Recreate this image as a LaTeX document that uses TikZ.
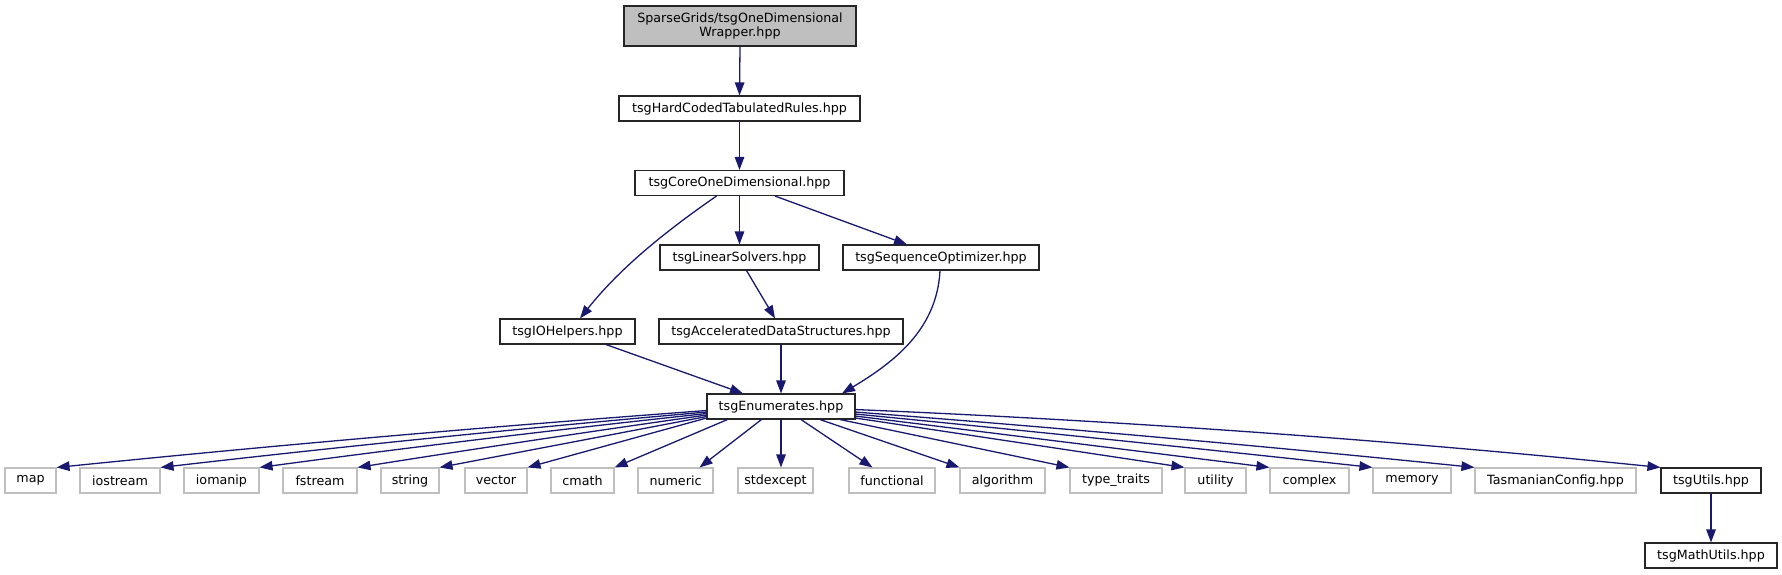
\documentclass[tikz,border=0pt]{standalone}
\usepackage{fontspec}
\setmainfont{DejaVu Sans}
\usetikzlibrary{arrows.meta,calc}
\definecolor{edgeblue}{HTML}{191970}
\definecolor{greyline}{HTML}{BFBFBF}
\newcommand\curvconn[3]{\draw[conn] (#1) .. controls ($(#1)!0.33!(#2)+(0,-#3)$) and ($(#1)!0.67!(#2)+(0,-#3)$) .. (#2);}
\begin{document}
\begin{tikzpicture}[x=1pt,y=-1pt,
  box/.style={draw=black!85, line width=1.1pt, inner sep=0pt, minimum height=25pt,
    font=\fontsize{12.7}{14.5}\selectfont, align=center, fill=white, text=black},
  ext/.style={box, draw=greyline},
  topbox/.style={box, fill=greyline, minimum height=40pt},
  conn/.style={draw=edgeblue, line width=1.3pt, -{Triangle[length=13pt,width=9.5pt]}}]
\useasboundingbox (0,0) rectangle (1782,575);
\fill[white] (0,0) rectangle (1782,575);

% nodes
\node[topbox, minimum width=232pt] (top) at (740,26) {SparseGrids/tsgOneDimensional\\Wrapper.hpp};
\node[box, minimum width=241pt] (hard) at (739.5,108.5) {tsgHardCodedTabulatedRules.hpp};
\node[box, minimum width=209pt] (core) at (739.5,183) {tsgCoreOneDimensional.hpp};
\node[box, minimum width=159pt] (linear) at (739.5,257.5) {tsgLinearSolvers.hpp};
\node[box, minimum width=196pt] (seq) at (941,257.5) {tsgSequenceOptimizer.hpp};
\node[box, minimum width=135pt] (io) at (567.5,331.5) {tsgIOHelpers.hpp};
\node[box, minimum width=244pt] (accel) at (781,331.5) {tsgAcceleratedDataStructures.hpp};
\node[box, minimum width=148pt] (enum) at (781,406.5) {tsgEnumerates.hpp};

\node[ext, minimum width=51pt] (map) at (30.5,480.5) {map};
\node[ext, minimum width=80pt] (iostream) at (120,480.5) {iostream};
\node[ext, minimum width=75pt] (iomanip) at (221.5,480.5) {iomanip};
\node[ext, minimum width=74pt] (fstream) at (320,480.5) {fstream};
\node[ext, minimum width=58pt] (string) at (410,480.5) {string};
\node[ext, minimum width=62pt] (vector) at (496,480.5) {vector};
\node[ext, minimum width=63pt] (cmath) at (582.5,480.5) {cmath};
\node[ext, minimum width=75pt] (numeric) at (675.5,480.5) {numeric};
\node[ext, minimum width=75pt] (stdexcept) at (775.5,480.5) {stdexcept};
\node[ext, minimum width=86pt] (functional) at (892,480.5) {functional};
\node[ext, minimum width=85pt] (algorithm) at (1002.5,480.5) {algorithm};
\node[ext, minimum width=92pt] (ttraits) at (1116,480.5) {type\_traits};
\node[ext, minimum width=61pt] (utility) at (1215.5,480.5) {utility};
\node[ext, minimum width=79pt] (complex) at (1309.5,480.5) {complex};
\node[ext, minimum width=78pt] (memory) at (1412,480.5) {memory};
\node[ext, minimum width=161pt] (tconfig) at (1555.5,480.5) {TasmanianConfig.hpp};
\node[box, minimum width=100pt] (utils) at (1711,480.5) {tsgUtils.hpp};
\node[box, minimum width=132pt] (mathutils) at (1711,555.5) {tsgMathUtils.hpp};

% upper connectors
\draw[conn] (top.south) -- (hard.north);
\draw[conn] (hard.south) -- (core.north);
\draw[conn] (core.south) -- (linear.north);
\draw[conn] ($(core.south)+(-23,0)$) .. controls +(-55,38) and +(38,-48) .. ($(io.north)+(12.5,0)$);
\draw[conn] ($(core.south)+(35.5,0)$) -- ($(seq.north)+(-34,0)$);
\draw[conn] ($(linear.south)+(7,0)$) -- ($(accel.north)+(-6,0)$);
\draw[conn] ($(io.south)+(38.5,0)$) -- ($(enum.north)+(-38,0)$);
\draw[conn] (accel.south) -- (enum.north);
\draw[conn] ($(seq.south)+(-1,0)$) .. controls +(-3,60) and +(50,-30) .. ($(enum.north)+(61,0)$);

% connectors from tsgEnumerates.hpp
\coordinate (sMap) at ($(enum.south west)+(0,-9)$);
\coordinate (sIostream) at ($(enum.south west)+(0,-7.5)$);
\coordinate (sIomanip) at ($(enum.south west)+(0,-6)$);
\coordinate (sFstream) at ($(enum.south west)+(0,-4.5)$);
\coordinate (sString) at ($(enum.south west)+(0,-3)$);
\coordinate (sVector) at ($(enum.south west)+(0,-1.5)$);
\curvconn{sMap}{map.north east}{3}
\curvconn{sIostream}{iostream.north east}{2.5}
\curvconn{sIomanip}{iomanip.north east}{2}
\curvconn{sFstream}{fstream.north east}{1}
\curvconn{sString}{string.north east}{0}
\curvconn{sVector}{vector.north east}{0}
\draw[conn] ($(enum.south west)+(21,0)$) -- (cmath.north east);
\draw[conn] ($(enum.south west)+(55,0)$) -- ($(numeric.north east)+(-14,0)$);
\draw[conn] (enum.south) -- ($(stdexcept.north)+(5.5,0)$);
\draw[conn] ($(enum.south)+(20,0)$) -- ($(functional.north west)+(24,0)$);
\draw[conn] ($(enum.south)+(39,0)$) -- (algorithm.north west);
\draw[conn] ($(enum.south)+(59,0)$) -- (ttraits.north west);

\coordinate (sUtility) at ($(enum.south east)+(0,-1.5)$);
\coordinate (sComplex) at ($(enum.south east)+(0,-3.5)$);
\coordinate (sMemory) at ($(enum.south east)+(0,-5.5)$);
\coordinate (sConfig) at ($(enum.south east)+(0,-7.5)$);
\coordinate (sUtils) at ($(enum.south east)+(0,-10)$);
\curvconn{sUtility}{utility.north west}{0}
\curvconn{sComplex}{complex.north west}{0}
\curvconn{sMemory}{memory.north west}{1}
\curvconn{sConfig}{tconfig.north west}{2.5}
\curvconn{sUtils}{utils.north west}{8}

\draw[conn] (utils.south) -- (mathutils.north);
\end{tikzpicture}
\end{document}
